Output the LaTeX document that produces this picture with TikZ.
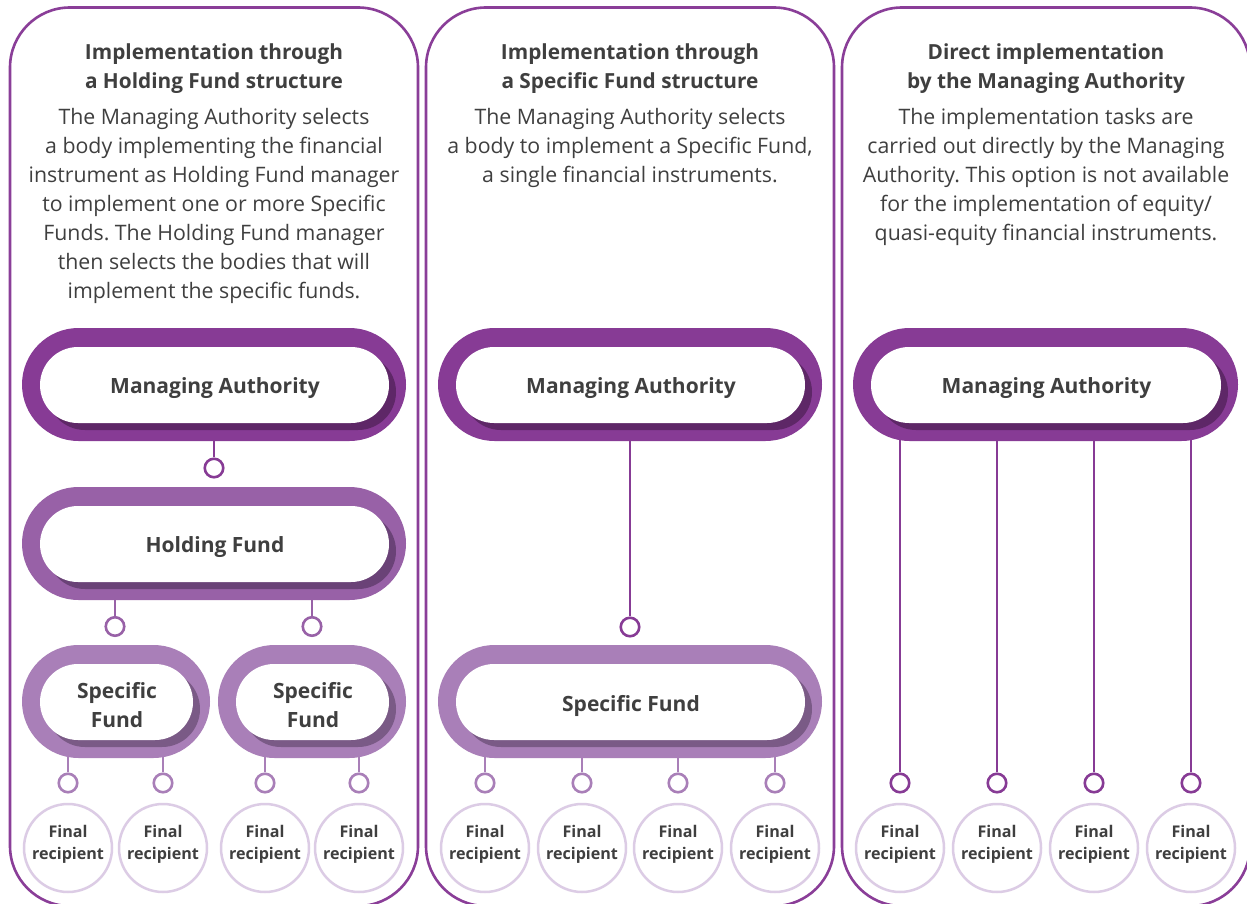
\documentclass[tikz,border=0pt]{standalone}
\usepackage{fontspec}
\setmainfont{Open Sans}
\usetikzlibrary{shapes.misc,calc}
\frenchspacing
\definecolor{panelc}{HTML}{8A3E98}
\definecolor{mac}{HTML}{873B95}
\definecolor{mash}{HTML}{5E2767}
\definecolor{hfc}{HTML}{9861A7}
\definecolor{hfsh}{HTML}{6A4277}
\definecolor{sfc}{HTML}{A97FB8}
\definecolor{sfsh}{HTML}{7A5A86}
\definecolor{frc}{HTML}{DCCCE5}
\definecolor{txt}{HTML}{3F3F3F}
\newcommand\stack[1]{\begin{tabular}[t]{@{}c@{}}#1\end{tabular}}
\newcommand\pill[6]{%
  \node[pillshape, fill=#5, minimum width={#3}, minimum height={#4}] (#1) at (#2) {};
  \node[pillshape, fill=#6, minimum width={#3-35}, minimum height={#4-37}] (#1s) at ($(#1.center)+(7.5,7.5)$) {};
  \node[pillshape, fill=white, minimum width={#3-35}, minimum height={#4-37}] (#1w) at ($(#1.center)+(0.5,0.5)$) {};
}
\tikzset{
  panel/.style={draw=panelc, line width=2.6pt, rounded corners=60pt},
  pillshape/.style={rounded rectangle, inner sep=0pt, outer sep=0pt, draw=none},
  conn/.style={draw=#1, line width=2.6pt},
  dot/.style={circle, draw=#1, line width=2.6pt, fill=white, minimum size=18.5pt, inner sep=0pt},
  fr/.style={circle, draw=frc, line width=2.5pt, fill=white, minimum size=88pt, inner sep=0pt},
  titletext/.style={anchor=base, inner sep=0pt, text=txt, font=\fontsize{20.8}{29}\selectfont\bfseries},
  bodytext/.style={anchor=base, inner sep=0pt, text=txt, font=\fontsize{21.3}{29}\selectfont},
  pilltext/.style={anchor=base, inner sep=0pt, text=txt, font=\fontsize{21}{29}\selectfont\bfseries},
  frtext/.style={anchor=base, inner sep=0pt, text=txt, font=\fontsize{16.1}{22}\selectfont\bfseries},
}
\begin{document}
\begin{tikzpicture}[x=1pt,y=-1pt]
\useasboundingbox (0,0) rectangle (1247,904);
\fill[white] (0,0) rectangle (1247,904);
% panels
\draw[panel] (10,7.5) rectangle (418,906);
\draw[panel] (426,7.5) rectangle (834,906);
\draw[panel] (842,7.5) rectangle (1250,906);

% ---------- headings ----------
\node[titletext] (t1) at (214,60) {\stack{Implementation through\\a Holding Fund structure}};
\node[bodytext] (b1) at (214,125) {\stack{The Managing Authority selects\\a body implementing the financial\\instrument as Holding Fund manager\\to implement one or more Specific\\Funds. The Holding Fund manager\\then selects the bodies that will\\implement the specific funds.}};
\node[titletext] (t2) at (630,60) {\stack{Implementation through\\a Specific Fund structure}};
\node[bodytext] (b2) at (630,125) {\stack{The Managing Authority selects\\a body to implement a Specific Fund,\\a single financial instruments.}};
\node[titletext] (t3) at (1046,60) {\stack{Direct implementation\\by the Managing Authority}};
\node[bodytext] (b3) at (1046,125) {\stack{The implementation tasks are\\carried out directly by the Managing\\Authority. This option is not available\\for the implementation of equity/\\quasi-equity financial instruments.}};

% ---------- left column ----------
\pill{ma1}{214,384.5}{384}{113}{mac}{mash}
\node[pilltext] (ma1t) at (215,393) {Managing Authority};
\node[dot=mac] (d1) at (214,468) {};
\draw[conn=mac] ($(ma1.south)+(0,-3)$) -- (d1.north);
\pill{hf}{214,543.5}{384}{113}{hfc}{hfsh}
\node[pilltext] (hft) at (215,552) {Holding Fund};
\node[dot=hfc] (d2) at (115,626.5) {};
\node[dot=hfc] (d3) at (312,626.5) {};
\draw[conn=hfc] ($(d2.north |- hf.south)+(0,-3)$) -- (d2.north);
\draw[conn=hfc] ($(d3.north |- hf.south)+(0,-3)$) -- (d3.north);
\pill{sf1}{116,701.5}{188}{113}{sfc}{sfsh}
\pill{sf2}{312,701.5}{188}{113}{sfc}{sfsh}
\node[pilltext] (sf1t) at (117,698) {\stack{Specific\\Fund}};
\node[pilltext] (sf2t) at (313,698) {\stack{Specific\\Fund}};
\foreach \n/\x/\p in {1/68/sf1,2/163/sf1,3/265/sf2,4/359/sf2}{
  \node[dot=sfc] (e\n) at (\x,783) {};
  \draw[conn=sfc] ($(e\n.north |- \p.south)+(0,-3)$) -- (e\n.north);
  \node[fr] (f\n) at (\x,848) {};
  \node[frtext] (f\n t) at ($(f\n)+(0,-11)$) {\stack{Final\\recipient}};
}

% ---------- middle column ----------
\pill{ma2}{630,384.5}{384}{113}{mac}{mash}
\node[pilltext] (ma2t) at (631,393) {Managing Authority};
\node[dot=mac] (d4) at (630,627) {};
\draw[conn=mac] ($(ma2.south)+(0,-3)$) -- (d4.north);
\pill{sf3}{630,701.5}{384}{113}{sfc}{sfsh}
\node[pilltext] (sf3t) at (631,711) {Specific Fund};
\foreach \n/\x in {5/485,6/582,7/678,8/775}{
  \node[dot=sfc] (e\n) at (\x,783) {};
  \draw[conn=sfc] ($(e\n.north |- sf3.south)+(0,-3)$) -- (e\n.north);
  \node[fr] (f\n) at (\x,848) {};
  \node[frtext] (f\n t) at ($(f\n)+(0,-11)$) {\stack{Final\\recipient}};
}

% ---------- right column ----------
\pill{ma3}{1045.5,384.5}{385}{113}{mac}{mash}
\node[pilltext] (ma3t) at (1046.5,393) {Managing Authority};
\foreach \n/\x in {9/900,10/997,11/1094,12/1191}{
  \node[dot=mac] (e\n) at (\x,783) {};
  \draw[conn=mac] ($(e\n.north |- ma3.south)+(0,-3)$) -- (e\n.north);
  \node[fr] (f\n) at (\x,848) {};
  \node[frtext] (f\n t) at ($(f\n)+(0,-11)$) {\stack{Final\\recipient}};
}
\end{tikzpicture}
\end{document}
